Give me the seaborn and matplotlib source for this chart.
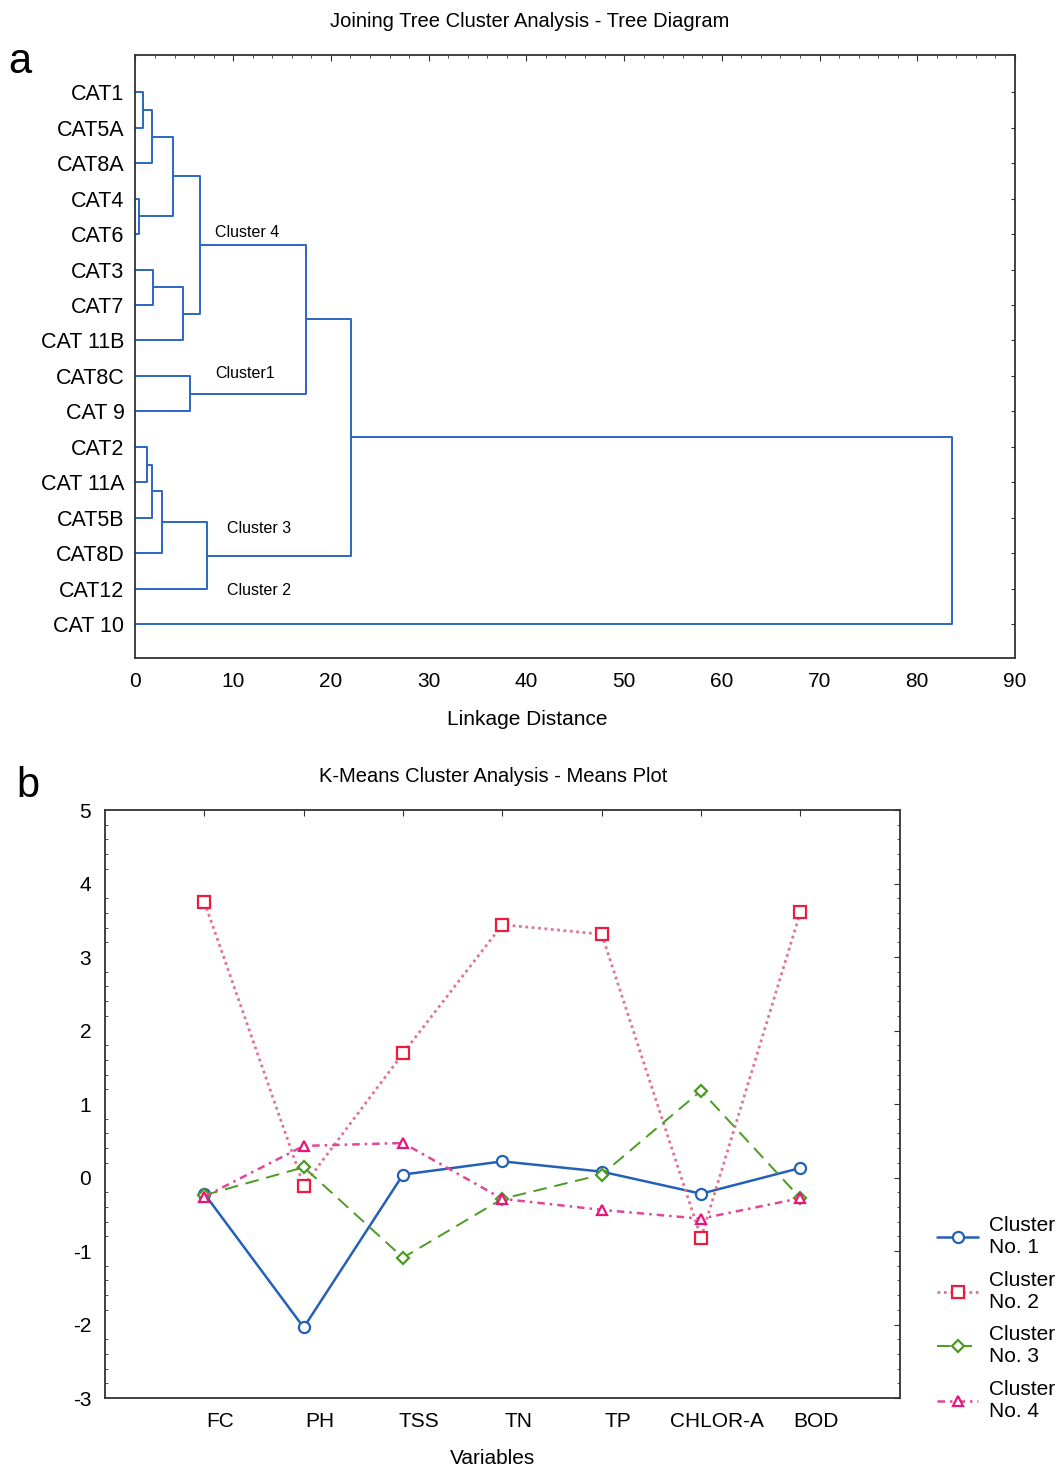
import numpy as np
import pandas as pd
import matplotlib
matplotlib.use("Agg")
import matplotlib.pyplot as plt
import matplotlib.transforms as mtransforms
from matplotlib.ticker import MultipleLocator
import seaborn as sns

# --- panel a: dendrogram ---
leafNames = ["CAT1", "CAT5A", "CAT8A", "CAT4", "CAT6", "CAT3", "CAT7", "CAT 11B",
             "CAT8C", "CAT 9", "CAT2", "CAT 11A", "CAT5B", "CAT8D", "CAT12", "CAT 10"]
mergeLeft = ["CAT1", "m0", "CAT4", "m1", "CAT3", "m4", "m3", "CAT8C", "m6",
             "CAT2", "m9", "m10", "m11", "m8", "m13"]
mergeRight = ["CAT5A", "CAT8A", "CAT6", "m2", "CAT7", "CAT 11B", "m5", "CAT 9", "m7",
              "CAT 11A", "CAT5B", "CAT8D", "CAT12", "m12", "CAT 10"]
mergeHeight = [0.8, 1.7, 0.35, 3.85, 1.8, 4.9, 6.6, 5.6, 17.4,
               1.15, 1.65, 2.7, 7.3, 22.1, 83.6]
clusterNames = ["Cluster 4", "Cluster1", "Cluster 3", "Cluster 2"]
clusterX = [8.1, 8.2, 9.35, 9.35]
clusterY = [3.95, 7.92, 12.29, 14.04]

# --- panel b: k-means means ---
variables = ["FC", "PH", "TSS", "TN", "TP", "CHLOR-A", "BOD"]
cluster1 = [-0.22, -2.04, 0.04, 0.22, 0.08, -0.22, 0.13]
cluster2 = [3.75, -0.11, 1.69, 3.44, 3.31, -0.82, 3.61]
cluster3 = [-0.24, 0.14, -1.09, -0.29, 0.04, 1.18, -0.28]
cluster4 = [-0.26, 0.43, 0.47, -0.29, -0.44, -0.56, -0.28]
clusterLabels = ["Cluster\nNo. 1", "Cluster\nNo. 2", "Cluster\nNo. 3", "Cluster\nNo. 4"]


def dendrogramLinks():
    pos = {name: i for i, name in enumerate(leafNames)}
    height = {name: 0.0 for name in leafNames}
    rows = []
    for k, (left, right, h) in enumerate(zip(mergeLeft, mergeRight, mergeHeight)):
        yl, yr = pos[left], pos[right]
        for x, y in [(height[left], yl), (h, yl), (h, yr), (height[right], yr)]:
            rows.append({"link": k, "x": x, "y": y})
        pos["m%d" % k] = (yl + yr) / 2
        height["m%d" % k] = h
    return pd.DataFrame(rows)


def styleBox(ax):
    for s in ax.spines.values():
        s.set_color("#333333")
        s.set_linewidth(1.3)


def main():
    sns.set_style("white")
    plt.rcParams["font.family"] = ["Liberation Sans", "DejaVu Sans"]
    plt.rcParams["axes.unicode_minus"] = False
    for key in ["text.color", "axes.labelcolor", "xtick.labelcolor", "ytick.labelcolor"]:
        plt.rcParams[key] = "black"

    fig = plt.figure(figsize=(10.61, 14.69), dpi=100)

    # ---------------- panel a ----------------
    axA = fig.add_axes([0.1277, 0.5521, 0.8289, 0.4105])
    linksDf = dendrogramLinks()
    sns.lineplot(data=linksDf, x="x", y="y", units="link", estimator=None, sort=False,
                 color="#2b66c4", linewidth=1.4, ax=axA, legend=False)
    axA.set_xlim(0, 90)
    axA.set_ylim(15.95, -1.05)
    axA.set_xticks(np.arange(0, 91, 10))
    axA.xaxis.set_minor_locator(MultipleLocator(2))
    axA.set_yticks(range(len(leafNames)))
    axA.set_yticklabels(leafNames, fontsize=15.5)
    axA.tick_params(axis="x", which="major", direction="in", length=4, top=True,
                    labelsize=15, pad=10, color="#333333")
    axA.tick_params(axis="x", which="minor", direction="in", length=2, top=True, color="#333333")
    axA.tick_params(axis="y", direction="in", length=3, right=True, pad=8, color="#333333")
    axA.set_xlabel("Linkage Distance", fontsize=15)
    axA.xaxis.set_label_coords(0.446, -0.087)
    axA.set_ylabel("")
    axA.set_title("Joining Tree Cluster Analysis - Tree Diagram", fontsize=14.5, pad=20, x=0.448)
    for name, x, y in zip(clusterNames, clusterX, clusterY):
        axA.text(x, y, name, fontsize=11.5, ha="left", va="center")
    styleBox(axA)
    fig.text(0.008, 0.958, "a", fontsize=30, ha="left", va="center")

    # ---------------- panel b ----------------
    axB = fig.add_axes([0.099, 0.0483, 0.749, 0.4003])
    xs = np.arange(len(variables))
    series = [cluster1, cluster2, cluster3, cluster4]
    lineColors = ["#2360b8", "#e07592", "#4d9a22", "#e0479a"]
    markerColors = ["#2360b8", "#ee1c3c", "#4d9a22", "#e8157a"]
    markers = ["o", "s", "D", "^"]
    markerSizes = [8, 8, 6, 7]
    lineStyles = ["-", (0, (1, 1.3)), (0, (7, 4)), (0, (3, 2, 1, 2))]
    lineWidths = [1.8, 2.0, 1.4, 1.8]
    for vals, lab, lc, mc, mk, ms, ls, lw in zip(series, clusterLabels, lineColors, markerColors,
                                                markers, markerSizes, lineStyles, lineWidths):
        sns.lineplot(x=xs, y=vals, ax=axB, color=lc, linestyle=ls, linewidth=lw,
                     marker=mk, markersize=ms, mec=mc, mfc="white", mew=1.6, label=lab)
    axB.set_xlim(-1, 7)
    axB.set_ylim(-3, 5)
    axB.set_xticks(xs)
    axB.set_xticklabels(variables, fontsize=15)
    axB.set_yticks(np.arange(-3, 6, 1))
    axB.yaxis.set_minor_locator(MultipleLocator(0.2))
    axB.tick_params(axis="x", direction="in", length=4, top=True, pad=10, color="#333333")
    axB.tick_params(axis="y", which="major", direction="in", length=4, right=True,
                    labelsize=15, pad=10, color="#333333")
    axB.tick_params(axis="y", which="minor", direction="in", length=2, left=True,
                    right=True, color="#333333")
    # labels sit a little right of their ticks in the original
    offset = mtransforms.ScaledTranslation(0.16, 0, fig.dpi_scale_trans)
    for lbl in axB.get_xticklabels():
        lbl.set_transform(lbl.get_transform() + offset)
    axB.set_xlabel("Variables", fontsize=15)
    axB.xaxis.set_label_coords(0.488, -0.086)
    axB.set_ylabel("")
    axB.set_title("K-Means Cluster Analysis - Means Plot", fontsize=14.5, pad=20, x=0.488)
    styleBox(axB)
    axB.legend(loc="upper left", bbox_to_anchor=(0.875, 1 - 1208 / 1469),
               bbox_transform=fig.transFigure, frameon=False, fontsize=15,
               handlelength=2.0, handletextpad=0.5, labelspacing=0.65, borderaxespad=0)
    fig.text(0.015, 0.465, "b", fontsize=30, ha="left", va="center")

    fig.savefig("out.png", dpi=100)


if __name__ == "__main__":
    main()
